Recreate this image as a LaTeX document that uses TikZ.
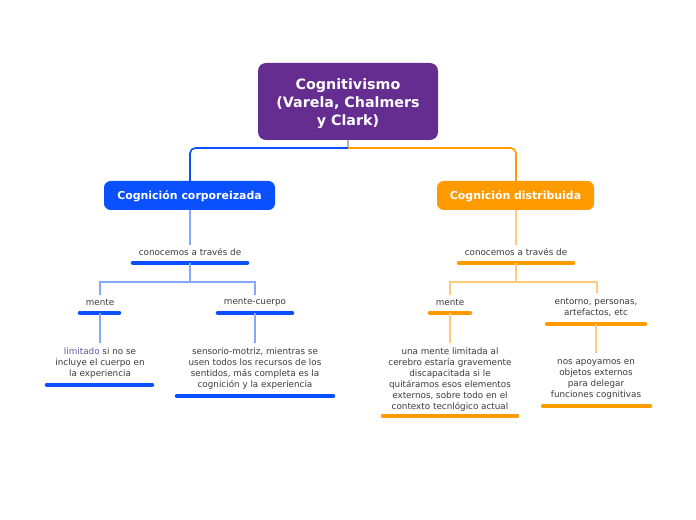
\documentclass[tikz,border=0pt]{standalone}
\usepackage{fontspec}
\setmainfont{DejaVu Sans}
\definecolor{rootc}{HTML}{662D91}
\definecolor{bluec}{HTML}{0A50FF}
\definecolor{orangec}{HTML}{FF9A00}
\definecolor{lblue}{HTML}{85A8FF}
\definecolor{lorange}{HTML}{FFCB7A}
\definecolor{txt}{HTML}{3A3A3A}
\definecolor{limc}{HTML}{5A5A9E}
\begin{document}
\begin{tikzpicture}[x=0.75pt,y=-0.75pt,
  rootbox/.style={fill=rootc,rounded corners=6pt,text=white,font=\fontsize{10.7}{13.5}\selectfont\bfseries,align=center},
  topicbox/.style={rounded corners=5pt,text=white,font=\fontsize{8.2}{9}\selectfont\bfseries,align=center},
  lbl/.style={text=txt,font=\fontsize{6.6}{8.25}\selectfont,align=center,inner sep=0pt},
  bbar/.style={line width=3.4pt,line cap=round,bluec},
  obar/.style={line width=3.4pt,line cap=round,orangec},
  bcon/.style={bluec,line width=1.2pt},
  ocon/.style={orangec,line width=1.2pt},
  lbcon/.style={lblue,line width=1pt},
  locon/.style={lorange,line width=1pt}]
\useasboundingbox (0,0) rectangle (696,520);
% root
\path[rootbox] (258,63) rectangle (438,140);
\node[rootbox,fill=none] (root) at (348,104) {Cognitivismo\\(Varela, Chalmers\\y Clark)};
\coordinate (rb) at (348,140);
\coordinate (hj) at (348,148);
% topic boxes
\path[topicbox,fill=bluec] (104,181) rectangle (275,210);
\node[topicbox] (cc) at (189.5,196) {Cognición corporeizada};
\path[topicbox,fill=orangec] (437,181) rectangle (594,210);
\node[topicbox] (cd) at (515.5,196) {Cognición distribuida};
\coordinate (cct) at (190,181);
\coordinate (ccb) at (190,210);
\coordinate (cdt) at (516,181);
\coordinate (cdb) at (516,210);
% root connectors
\draw[gray!60,line width=1.2pt] (rb) -- (hj);
\draw[bcon,rounded corners=4pt] (hj) -- (190,148) -- (cct);
\draw[ocon,rounded corners=4pt] (hj) -- (516,148) -- (cdt);
% left branch
\node[lbl] (lc) at (190,252) {conocemos a través de};
\draw[bbar] (133,263) -- (247,263);
\draw[lbcon] (ccb) -- (190,245);
\coordinate (lj) at (190,282);
\draw[lbcon] (190,263) -- (lj);
\node[lbl] (lm) at (100,302) {mente};
\node[lbl] (lmc) at (255,302) {mente-cuerpo};
\draw[lbcon] (lj) -- (100,282) -- (100,295);
\draw[lbcon] (lj) -- (255,282) -- (255,295);
\draw[bbar] (80,313) -- (119,313);
\draw[bbar] (218,313) -- (292,313);
\draw[lbcon] (100,313) -- (100,343);
\draw[lbcon] (255,313) -- (255,343);
\node[lbl,anchor=north] (lmt) at (100,348) {{\color{limc}limitado} si no se\\incluye el cuerpo en\\la experiencia};
\draw[bbar] (47,385) -- (152,385);
\node[lbl,anchor=north] (lmct) at (255,348) {sensorio-motriz, mientras se\\usen todos los recursos de los\\sentidos, más completa es la\\cognición y la experiencia};
\draw[bbar] (177,396) -- (333,396);
% right branch
\node[lbl] (rc) at (516,252) {conocemos a través de};
\draw[obar] (459,263) -- (573,263);
\draw[locon] (cdb) -- (516,245);
\coordinate (rj) at (516,282);
\draw[locon] (516,263) -- (rj);
\node[lbl] (rm) at (450,302) {mente};
\node[lbl,anchor=north] (re) at (596,298) {entorno, personas,\\artefactos, etc};
\draw[locon] (rj) -- (450,282) -- (450,295);
\draw[locon] (rj) -- (597,282) -- (597,293);
\draw[obar] (430,313) -- (470,313);
\draw[obar] (547,324) -- (645,324);
\draw[locon] (450,313) -- (450,343);
\draw[locon] (596,324) -- (596,353);
\node[lbl,anchor=north] (rmt) at (450,348) {una mente limitada al\\cerebro estaría gravemente\\discapacitada si le\\quitáramos esos elementos\\externos, sobre todo en el\\contexto tecnlógico actual};
\draw[obar] (383,416) -- (517,416);
\node[lbl,anchor=north] (ret) at (596,359) {nos apoyamos en\\objetos externos\\para delegar\\funciones cognitivas};
\draw[obar] (543,406) -- (650,406);
\end{tikzpicture}
\end{document}
